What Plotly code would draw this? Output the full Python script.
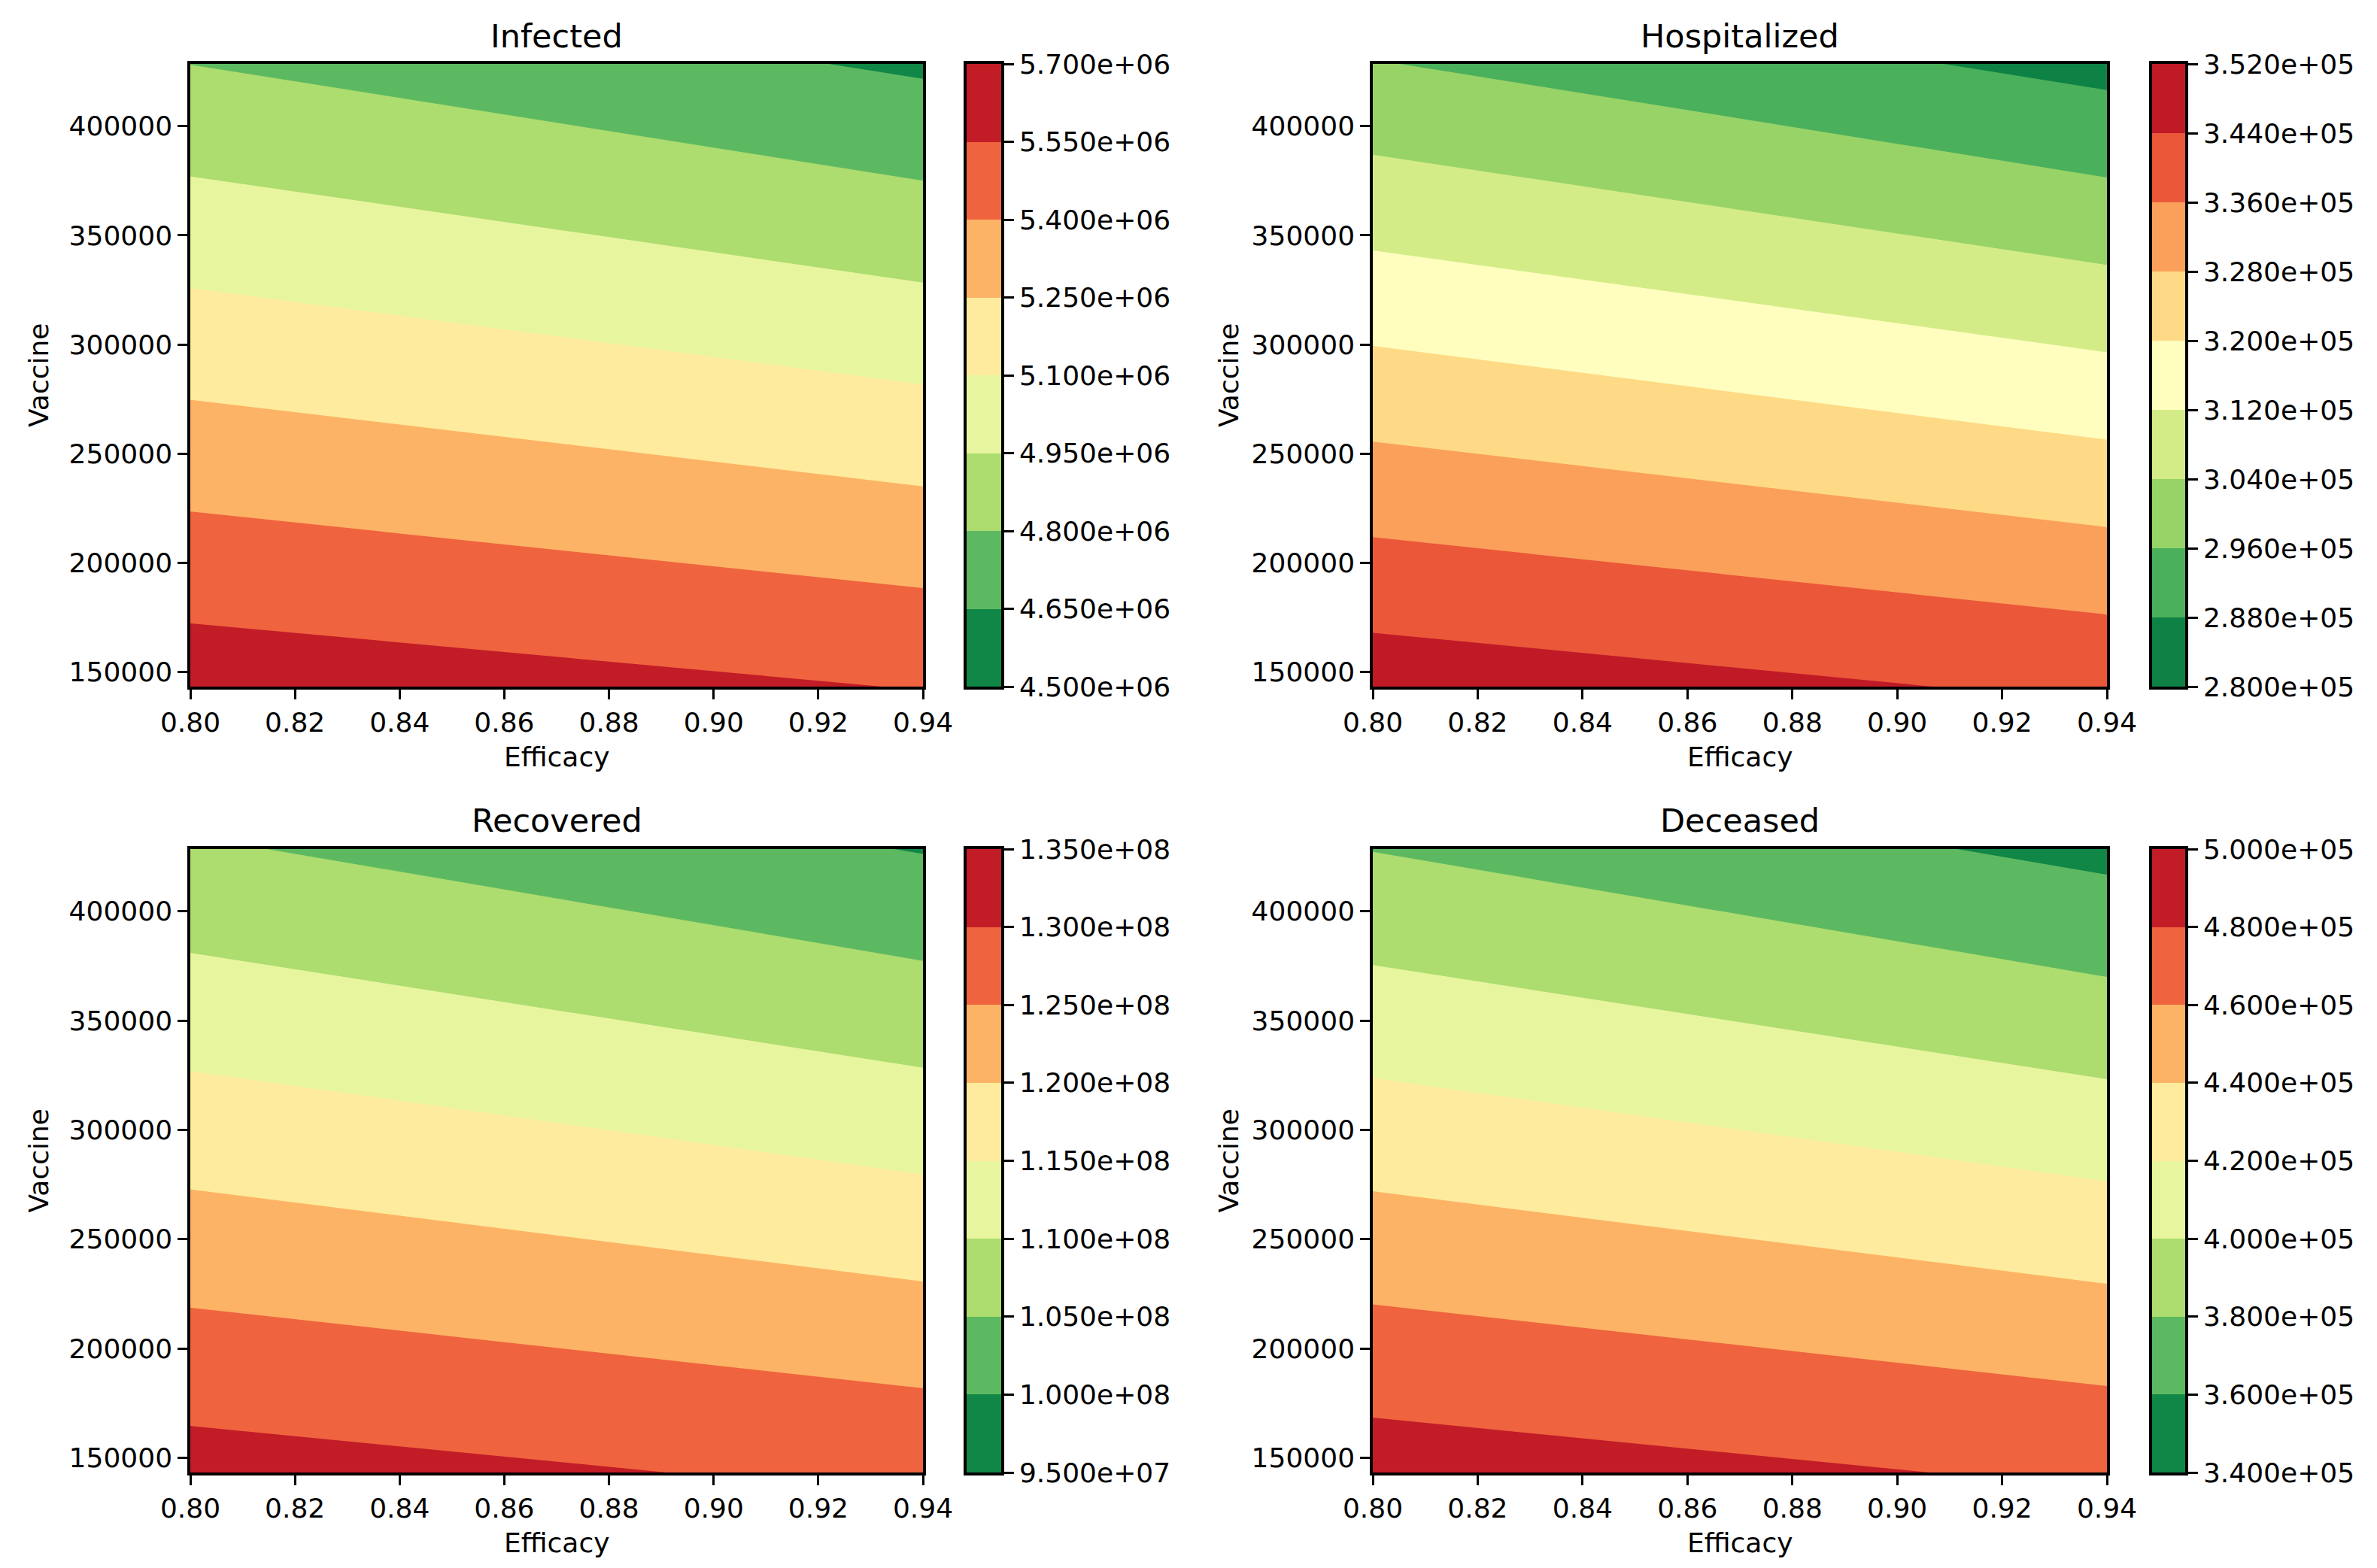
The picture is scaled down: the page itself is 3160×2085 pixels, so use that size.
import plotly.graph_objects as go

# ---------------- data ----------------
efficacy = [0.80, 0.94]            # grid columns (x)
vaccine = [143300, 428500]         # grid rows (y)

titles = ["Infected", "Hospitalized", "Recovered", "Deceased"]

# z[row = vaccine][col = efficacy]
infected = [[5.635e6, 5.545e6],
            [4.799e6, 4.628e6]]
hospitalized = [[348500, 342600],
                [296400, 285600]]
recovered = [[1.3197e8, 1.2894e8],
             [1.0561e8, 0.9977e8]]
deceased = [[489700, 476900],
            [379500, 355000]]

infected_levels = [4.50e6, 4.65e6, 4.80e6, 4.95e6, 5.10e6, 5.25e6, 5.40e6, 5.55e6, 5.70e6]
hospitalized_levels = [2.80e5, 2.88e5, 2.96e5, 3.04e5, 3.12e5, 3.20e5, 3.28e5, 3.36e5, 3.44e5, 3.52e5]
recovered_levels = [9.5e7, 1.00e8, 1.05e8, 1.10e8, 1.15e8, 1.20e8, 1.25e8, 1.30e8, 1.35e8]
deceased_levels = [3.4e5, 3.6e5, 3.8e5, 4.0e5, 4.2e5, 4.4e5, 4.6e5, 4.8e5, 5.0e5]

x_ticks = [0.80, 0.82, 0.84, 0.86, 0.88, 0.90, 0.92, 0.94]
y_ticks = [150000, 200000, 250000, 300000, 350000, 400000]

panels_z = [infected, hospitalized, recovered, deceased]
panels_levels = [infected_levels, hospitalized_levels, recovered_levels, deceased_levels]

# ---------------- style ----------------
W, H = 3160, 2085
FONT = "DejaVu Sans"
TICK_SIZE = 36
TITLE_SIZE = 43

RDYLGN = ["#a50026", "#d73027", "#f46d43", "#fdae61", "#fee08b", "#ffffbf",
          "#d9ef8b", "#a6d96a", "#66bd63", "#1a9850", "#006837"]


def hex_rgb(h):
    h = h.lstrip("#")
    return [int(h[i:i + 2], 16) for i in (0, 2, 4)]


def rdylgn_r(t):
    i = min(int(t * 256), 255)
    u = 1 - i / 255.0
    seg = u * 10
    k = min(int(seg), 9)
    f = seg - k
    a, b = hex_rgb(RDYLGN[k]), hex_rgb(RDYLGN[k + 1])
    c = [round(a[j] + (b[j] - a[j]) * f) for j in range(3)]
    return f"rgb({c[0]},{c[1]},{c[2]})"


def band_colors(n):
    return [rdylgn_r((k + 0.5) / n) for k in range(n)]


def step_scale(colors):
    m = len(colors)
    sc = []
    for j, c in enumerate(colors):
        sc.append([j / m, c])
        sc.append([(j + 1) / m, c])
    return sc


def contour_scale(colors):
    # plotly maps band above level k to position (k+1)/(n+1)
    n = len(colors)
    ext = [colors[0]] + colors + [colors[-1]]
    m = n + 2
    sc = []
    for j, c in enumerate(ext):
        lo = 0 if j == 0 else (j - 0.5) / (n + 1)
        hi = 1 if j == m - 1 else (j + 0.5) / (n + 1)
        sc.append([lo, c])
        sc.append([hi, c])
    return sc


# pixel geometry
plot_x = [(245, 1219), (1817, 2793), (245, 1219), (1817, 2793)]
plot_y = [(77, 905), (77, 905), (1121, 1950), (1121, 1950)]
cbar_x = [(1277, 1323), (2853, 2897), (1277, 1323), (2853, 2897)]
title_y = [40, 40, 1083, 1083]
xlabel_y = [998, 998, 2043, 2043]
ylabel_x = [43, 1625, 43, 1625]


def px(xp):
    return xp / W


def py(yp):
    return 1 - yp / H


fig = go.Figure()
layout = dict(
    width=W, height=H,
    margin=dict(l=0, r=0, t=0, b=0, pad=0),
    paper_bgcolor="white", plot_bgcolor="white",
    font=dict(family=FONT, size=TICK_SIZE, color="black"),
    showlegend=False,
)
annotations = []

axis_common = dict(
    showgrid=False, zeroline=False, showline=True, mirror=True,
    linecolor="black", linewidth=3.5, automargin=False,
    ticks="outside", ticklen=13, tickwidth=3, tickcolor="black",
    tickfont=dict(family=FONT, size=TICK_SIZE, color="black"),
)

for i in range(4):
    z = panels_z[i]
    lv = panels_levels[i]
    n = len(lv) - 1
    step = lv[1] - lv[0]
    cols = band_colors(n)
    xa = f"x{i + 1}"
    ya = f"y{i + 1}"
    xc = f"x{i + 5}"
    yc = f"y{i + 5}"

    fig.add_trace(go.Contour(
        x=efficacy, y=vaccine, z=z,
        autocontour=False,
        contours=dict(start=lv[0], end=lv[-1], size=step, coloring="fill", showlines=False),
        line=dict(width=0, smoothing=0),
        colorscale=contour_scale(cols), showscale=False,
        xaxis=xa, yaxis=ya, hoverinfo="skip",
    ))

    mids = [(lv[k] + lv[k + 1]) / 2 for k in range(n)]
    fig.add_trace(go.Heatmap(
        x=[0, 1], y=lv, z=[[m] for m in mids],
        colorscale=step_scale(cols), zmin=lv[0], zmax=lv[-1],
        showscale=False, xaxis=xc, yaxis=yc, hoverinfo="skip",
    ))

    x0, x1 = plot_x[i]
    y0, y1 = plot_y[i]
    c0, c1 = cbar_x[i]
    layout[f"xaxis{i + 1}"] = dict(
        axis_common, domain=[px(x0), px(x1)], anchor=ya,
        range=[efficacy[0], efficacy[-1]],
        tickvals=x_ticks, ticktext=[f"{v:.2f}" for v in x_ticks],
    )
    layout[f"yaxis{i + 1}"] = dict(
        axis_common, domain=[py(y1), py(y0)], anchor=xa,
        range=[vaccine[0], vaccine[-1]],
        tickvals=y_ticks, ticktext=[str(v) for v in y_ticks],
    )
    layout[f"xaxis{i + 5}"] = dict(
        axis_common, domain=[px(c0), px(c1)], anchor=yc,
        range=[0, 1], ticks="", showticklabels=False,
    )
    layout[f"yaxis{i + 5}"] = dict(
        axis_common, domain=[py(y1), py(y0)], anchor=xc, side="right",
        range=[lv[0], lv[-1]],
        tickvals=lv, ticktext=[f"{v:.3e}" for v in lv],
    )

    annotations.append(dict(
        text=titles[i], x=px((x0 + x1) / 2), y=py(title_y[i]),
        xref="paper", yref="paper", xanchor="center", yanchor="middle",
        showarrow=False, font=dict(family=FONT, size=TITLE_SIZE, color="black"),
    ))
    annotations.append(dict(
        text="Efficacy", x=px((x0 + x1) / 2), y=py(xlabel_y[i]),
        xref="paper", yref="paper", xanchor="center", yanchor="middle",
        showarrow=False, font=dict(family=FONT, size=TICK_SIZE, color="black"),
    ))
    annotations.append(dict(
        text="Vaccine", x=px(ylabel_x[i]), y=py((y0 + y1) / 2),
        xref="paper", yref="paper", xanchor="center", yanchor="middle",
        textangle=-90, showarrow=False,
        font=dict(family=FONT, size=TICK_SIZE, color="black"),
    ))

layout["annotations"] = annotations
fig.update_layout(**layout)
fig.write_html("out.html")
